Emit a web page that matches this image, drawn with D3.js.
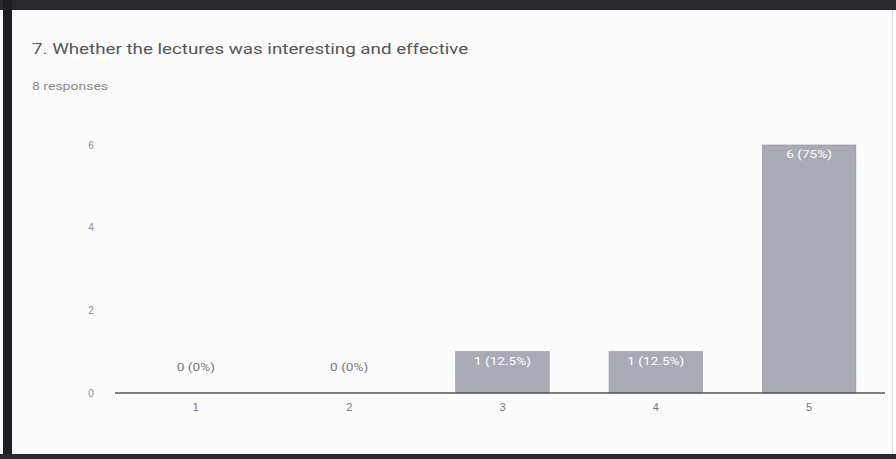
<!DOCTYPE html>
<html>
<head>
<meta charset="utf-8">
<script src="https://cdn.jsdelivr.net/npm/d3@7"></script>
<style>
  body { margin: 0; background: #fff; }
  svg { display: block; font-family: Roboto, "Noto Sans", sans-serif; }
</style>
</head>
<body>
<svg id="chart"></svg>
<script>
// chart data
const categories = ["1", "2", "3", "4", "5"];
const counts = [0, 0, 1, 1, 6];
const pctLabels = ["0%", "0%", "12.5%", "12.5%", "75%"];
const yTicks = [0, 2, 4, 6];
const title = "7. Whether the lectures was interesting and effective";
const subtitle = "8 responses";

const width = 896, height = 459;
const stretch = 1.3; // the scan is wider than it is tall
const svg = d3.select("#chart").attr("width", width).attr("height", height);

// widen a text selection horizontally, keeping its anchor
function widen(sel, k = stretch) {
    sel.each(function() {
        const w = this.getComputedTextLength();
        d3.select(this).attr("textLength", w * k).attr("lengthAdjust", "spacingAndGlyphs");
    });
}

// scanned page frame: dark band top, left and bottom
svg.append("rect").attr("x", 0).attr("y", 0).attr("width", width).attr("height", height).attr("fill", "#fcfcfd");
svg.append("rect").attr("x", 0).attr("y", 0).attr("width", width).attr("height", 10).attr("fill", "#2a2a2e");
svg.append("rect").attr("x", 3).attr("y", 0).attr("width", 9).attr("height", height).attr("fill", "#1e1e22");
svg.append("rect").attr("x", 0).attr("y", 454).attr("width", width).attr("height", 5).attr("fill", "#2a2a2e");
svg.append("rect").attr("x", 892).attr("y", 10).attr("width", 1).attr("height", 444).attr("fill", "#dcdcdc");

svg.append("text").attr("x", 32).attr("y", 54)
    .attr("font-size", 15).attr("fill", "#555").text(title)
    .call(widen, 1.25);
svg.append("text").attr("x", 32).attr("y", 90)
    .attr("font-size", 10).attr("fill", "#888").text(subtitle)
    .call(widen, 1.4);

const x = d3.scaleBand().domain(categories).range([120, 885]).paddingInner(0.39).paddingOuter(0.19);
const y = d3.scaleLinear().domain([0, 6]).range([393, 145]);

// y labels (no axis line, no gridlines)
svg.append("g").attr("transform", "translate(94,0)")
    .call(d3.axisLeft(y).tickValues(yTicks).tickSize(0).tickFormat(d3.format("d")))
    .call(g => g.select(".domain").remove())
    .call(g => g.selectAll("text").attr("fill", "#888").attr("font-size", 10).attr("dx", 0).attr("text-anchor", "middle"));

// bars
svg.append("g").selectAll("rect")
  .data(categories)
  .join("rect")
    .attr("x", d => x(d))
    .attr("y", (d, i) => y(counts[i]))
    .attr("width", x.bandwidth())
    .attr("height", (d, i) => y(0) - y(counts[i]))
    .attr("fill", "#a9abb4")
    .attr("stroke", "#8e9098")
    .attr("stroke-width", 0.6);

// baseline
svg.append("line").attr("x1", 115).attr("x2", 885)
    .attr("y1", y(0)).attr("y2", y(0))
    .attr("stroke", "#555").attr("stroke-width", 1.3);

// x axis labels
svg.append("g").attr("transform", `translate(0,${y(0)})`)
    .call(d3.axisBottom(x).tickSize(0).tickPadding(10))
    .call(g => g.select(".domain").remove())
    .call(g => g.selectAll("text").attr("fill", "#777").attr("font-size", 11));

// value labels
svg.append("g").selectAll("text")
  .data(categories)
  .join("text")
    .attr("x", d => x(d) + x.bandwidth() / 2)
    .attr("y", (d, i) => counts[i] > 0 ? y(counts[i]) + 13 : y(0) - 22)
    .attr("text-anchor", "middle")
    .attr("font-size", 10.5)
    .attr("fill", (d, i) => counts[i] > 0 ? "#fff" : "#777")
    .text((d, i) => `${counts[i]} (${pctLabels[i]})`)
    .call(widen);
</script>
</body>
</html>
